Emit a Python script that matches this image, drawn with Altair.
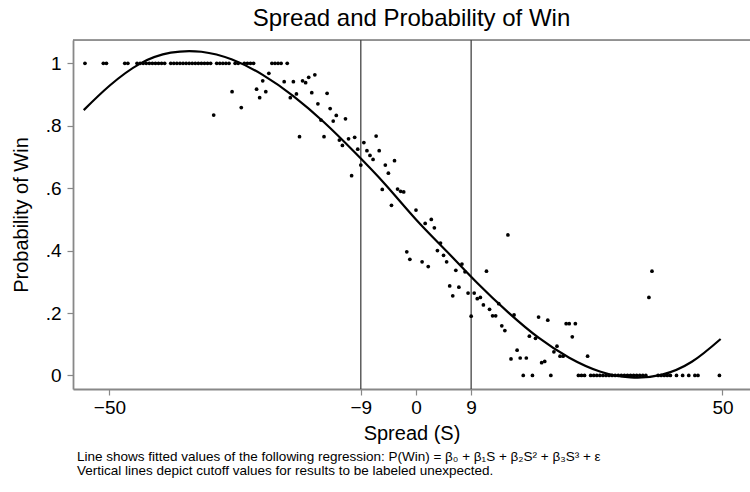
import altair as alt
import pandas as pd

# ---- data ----
row_one = [-54, -51, -50.5, -47.5, -47,
           -45.5, -45, -44.5, -44, -43.5, -43, -42.5, -42, -41.5, -41,
           -40, -39.5, -39, -38.5, -38, -37.5, -37, -36.5, -36, -35.5, -35, -34.5, -34, -33.5,
           -32.5, -32, -31.5, -31, -30.5,
           -29.5, -29, -28, -27.5, -27, -26.5,
           -23.5, -23, -22.5, -22, -21]

row_zero = [17.5, 19, 22, 26.5, 27, 27.5,
            28.5, 29, 29.5, 30, 30.5, 31, 31.5, 32, 32.5, 33, 33.5, 34, 34.5, 35, 35.5,
            36, 36.5, 37, 37.5, 39.5, 40, 40.5, 41, 41.5, 42.5, 43.5, 44.5, 45.5, 46, 49.5]

mid_spread = [-33, -30, -28.5, -26, -25.5, -25, -24.5, -24, -21.5, -20.5, -20, -19.5, -19,
              -18.5, -18, -17.5, -17, -16.5, -16, -15.5, -15, -14.5, -14, -13.5, -13,
              -12.5, -12, -11.5, -11, -10.5, -10, -9.5, -9, -8.5, -8, -7.5, -7, -6.5,
              -6, -5.5, -5, -4.5, -4, -3.5, -3, -2.5, -2, -1.5, -1, 0, 1, 1.5, 2, 2.5,
              3, 3.5, 4, 4.5, 5, 5.5, 6, 6.5, 7, 7.5, 8, 8.5, 9, 9.5, 10, 10.5, 11,
              11.5, 12, 12.5, 13, 13.5, 14, 14.5, 15, 15.5, 16, 16.5, 17, 18, 18.5,
              19.5, 20, 20.5, 21, 21.5, 22.5, 23, 23.5, 24, 24.5, 25, 25.5, 26, 28,
              38, 38.5]
mid_prob = [0.834, 0.909, 0.858, 0.917, 0.890, 0.944, 0.909, 0.968, 0.941, 0.890, 0.941, 0.902, 0.765,
            0.944, 0.938, 0.955, 0.906, 0.963, 0.870, 0.818, 0.765, 0.904, 0.855, 0.815, 0.833,
            0.754, 0.737, 0.822, 0.758, 0.640, 0.763, 0.725, 0.674, 0.746, 0.720, 0.705, 0.692, 0.767,
            0.720, 0.596, 0.674, 0.648, 0.545, 0.688, 0.597, 0.590, 0.588, 0.396, 0.372, 0.530, 0.364, 0.487, 0.349, 0.500,
            0.473, 0.400, 0.424, 0.385, 0.364, 0.287, 0.255, 0.337, 0.283, 0.357, 0.332, 0.264, 0.190, 0.264, 0.246, 0.250, 0.226,
            0.334, 0.212, 0.191, 0.191, 0.230, 0.159, 0.144, 0.450, 0.053, 0.194, 0.081, 0.056, 0.056, 0.126,
            0.119, 0.187, 0.041, 0.045, 0.177, 0.076, 0.094, 0.062, 0.062, 0.166, 0.166, 0.124, 0.166, 0.062,
            0.250, 0.334]

fit_spread = [-54.2, -50, -45, -40, -35, -30, -25, -20, -15, -10, -5, 0, 5, 10, 15, 20, 25, 30, 35, 40, 45, 49.7]
fit_prob = [0.85, 0.928, 0.999, 1.034, 1.037, 1.012, 0.963, 0.895, 0.811, 0.715, 0.612, 0.50, 0.398, 0.296,
            0.203, 0.121, 0.057, 0.013, -0.006, 0.002, 0.044, 0.117]

cutoffs = [-9, 9]
x_ticks = [-50, -9, 0, 9, 50]
y_ticks = [0, 0.2, 0.4, 0.6, 0.8, 1]

title_text = "Spread and Probability of Win"
x_title = "Spread (S)"
y_title = "Probability of Win"
note_1 = "Line shows fitted values of the following regression: P(Win) = β₀ + β₁S + β₂S² + β₃S³ + ε"
note_2 = "Vertical lines depict cutoff values for results to be labeled unexpected."

# ---- tables ----
points = pd.DataFrame({
    "spread": row_one + row_zero + mid_spread,
    "prob": [1.0] * len(row_one) + [0.0] * len(row_zero) + mid_prob,
})
fit = pd.DataFrame({"spread": fit_spread, "prob": fit_prob})
cut = pd.DataFrame({"spread": cutoffs})

W, H = 677, 349
FONT = "Liberation Sans"

xscale = alt.Scale(domain=[-55.95, 54.49], nice=False, zero=False)
yscale = alt.Scale(domain=[-0.0433, 1.0746], nice=False, zero=False)

xenc = alt.X("spread:Q", scale=xscale,
             axis=alt.Axis(values=x_ticks, title=x_title, grid=False, labelFlush=False,
                           labelFontSize=19, titleFontSize=20, labelPadding=3,
                           titleFontWeight="normal",
                           titlePadding=6, tickSize=6, tickWidth=1.2, domainWidth=1.8))
yenc = alt.Y("prob:Q", scale=yscale,
             axis=alt.Axis(values=y_ticks, title=y_title, grid=False, labelFlush=False,
                           labelExpr="datum.value == 0 ? '0' : datum.value == 1 ? '1' : '.' + format(datum.value*10, 'd')",
                           labelFontSize=19, titleFontSize=20, labelPadding=6,
                           titleFontWeight="normal",
                           titlePadding=14, tickSize=6, tickWidth=1.2, domainWidth=1.8,
                           labelAngle=0))

one_row = pd.DataFrame({"k": [0]})

top_border = alt.Chart(one_row).mark_rule(color="#777777", strokeWidth=1.5).encode(
    x=alt.value(0), x2=alt.value(W), y=alt.value(0))

rules = alt.Chart(cut).mark_rule(color="#444444", strokeWidth=1.3).encode(x=alt.X("spread:Q", scale=xscale))

dots = alt.Chart(points).mark_circle(color="black", size=14, opacity=1).encode(x=xenc, y=yenc)

line = alt.Chart(fit).mark_line(color="black", strokeWidth=2.2, interpolate="natural").encode(
    x=alt.X("spread:Q", scale=xscale), y=alt.Y("prob:Q", scale=yscale))

note_a = alt.Chart(one_row).mark_text(align="left", baseline="middle", fontSize=13.5, font=FONT,
                                      color="black", text=note_1).encode(
    x=alt.value(4), y=alt.value(H + 68))
note_b = alt.Chart(one_row).mark_text(align="left", baseline="middle", fontSize=13.5, font=FONT,
                                      color="black", text=note_2).encode(
    x=alt.value(4), y=alt.value(H + 82))

chart = alt.layer(top_border, rules, dots, line, note_a, note_b).properties(
    width=W, height=H,
    autosize=alt.AutoSizeParams(type="none"),
    padding={"left": 73, "top": 40, "right": 0, "bottom": 103},
    title=alt.TitleParams(title_text, fontSize=24, font=FONT, fontWeight="normal",
                          anchor="middle", offset=8, color="black"),
).configure_view(stroke=None).configure_axis(
    labelFont=FONT, titleFont=FONT, titleFontWeight="normal",
    labelColor="black", titleColor="black", domainColor="black", tickColor="black",
).configure(background="white")

chart.save("out.html", embed_options={"renderer": "svg", "actions": False})
